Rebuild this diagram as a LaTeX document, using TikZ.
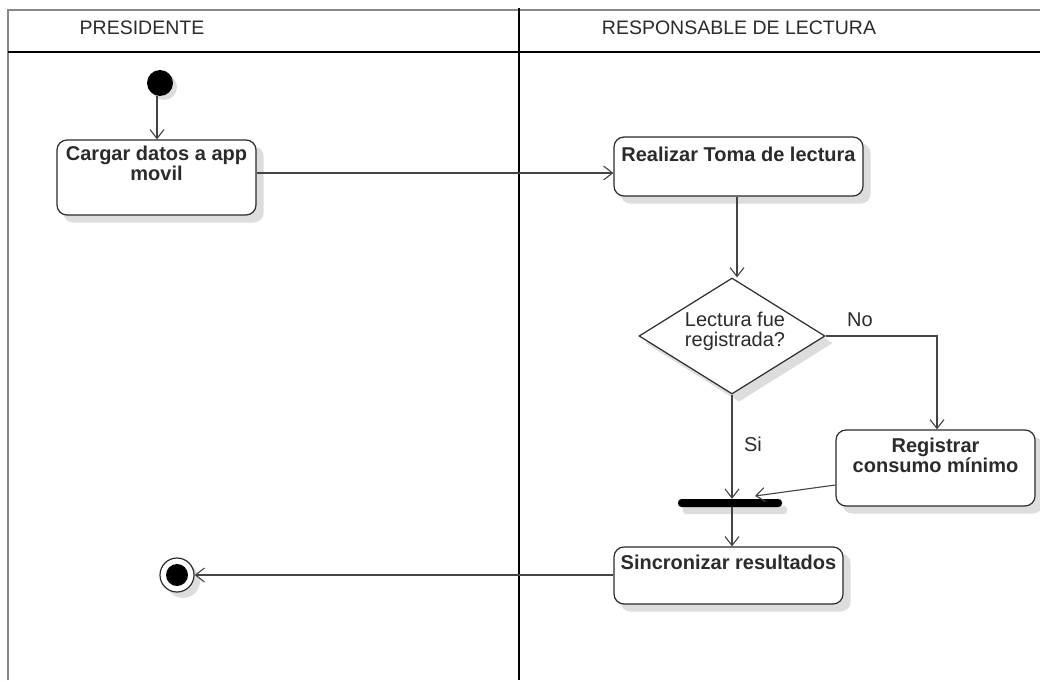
\documentclass[tikz,border=0pt]{standalone}
\usepackage{fontspec}
\setmainfont{Liberation Sans}
\usetikzlibrary{arrows.meta,shapes.geometric}
\definecolor{ink}{HTML}{2B2B2B}
\definecolor{wire}{HTML}{444444}
\definecolor{frame}{HTML}{888888}
\definecolor{shade}{HTML}{DDDDDD}
\pgfdeclarelayer{paper}
\pgfdeclarelayer{shadow}
\pgfsetlayers{paper,shadow,main}
\tikzset{
  actbox/.style={draw=ink, line width=1.2pt, rounded corners=10pt, fill=white, inner sep=0pt},
  acttext/.style={anchor=north, align=center, inner sep=0pt, text=ink,
    font=\fontsize{20}{20}\selectfont\bfseries},
  plaintext/.style={inner sep=0pt, text=ink, font=\fontsize{20}{20}\selectfont},
  lanetext/.style={inner sep=0pt, text=ink, font=\fontsize{19.5}{20}\selectfont},
  flow/.style={draw=wire, line width=1.1pt, -{Straight Barb[length=9pt,width=14pt,line width=1.1pt]}},
  shadowfill/.style={fill=shade, draw=none},
}
\begin{document}
\begin{tikzpicture}[x=1pt,y=-1pt]
\useasboundingbox (0,0) rectangle (1040,680);
\begin{pgfonlayer}{paper}
\fill[white] (0,0) rectangle (1040,680);
\end{pgfonlayer}

% swimlane frame
\draw[frame, line width=1.5pt] (8,680) -- (8,10) -- (1040,10);
\draw[black, line width=2pt] (8,52) -- (1040,52);
\draw[black, line width=1.3pt] (519,8) -- (519,680);
\node[lanetext] (lane1) at (142,28) {PRESIDENTE};
\node[lanetext] (lane2) at (739,28) {RESPONSABLE DE LECTURA};

% start
\node[circle, fill=black, minimum size=26pt, inner sep=0pt] (init) at (160,83) {};

% activities
\node[actbox, minimum width=199pt, minimum height=75pt] (cargar) at (156.5,177.5) {};
\node[acttext] (cargarT) at ([yshift=-6pt]cargar.north) {Cargar datos a app\\movil};

\node[actbox, minimum width=249pt, minimum height=59pt] (realizar) at (738.5,166.5) {};
\node[acttext] (realizarT) at ([yshift=-10pt]realizar.north) {Realizar Toma de lectura};

\node[diamond, draw=ink, line width=1.2pt, fill=white, minimum width=186pt, minimum height=116pt,
  inner sep=0pt] (decide) at (732,336) {};
\node[plaintext, align=center] (decideT) at (735,331) {Lectura fue\\registrada?};

\node[actbox, minimum width=199pt, minimum height=76pt] (registrar) at (935.5,468) {};
\node[acttext] (registrarT) at ([yshift=-8pt]registrar.north) {Registrar\\consumo mínimo};

\node[fill=black, rounded corners=3.5pt, minimum width=104pt, minimum height=8pt, inner sep=0pt] (join) at (730,503) {};

\node[actbox, minimum width=229pt, minimum height=57pt] (sinc) at (728.5,575.5) {};
\node[acttext] (sincT) at ([yshift=-8pt]sinc.north) {Sincronizar resultados};

% end
\node[circle, draw=ink, line width=1.2pt, fill=white, minimum size=34pt, inner sep=0pt] (final) at (177,575) {};
\fill[black] (final) circle (11pt);

% soft drop shadows, offset down and to the right
\begin{pgfonlayer}{shadow}
\foreach \n in {cargar, realizar, registrar, sinc}
  \fill[shadowfill, rounded corners=10pt] ([shift={(7pt,-7pt)}]\n.south west) rectangle ([shift={(7pt,-7pt)}]\n.north east);
\fill[shadowfill] ([shift={(7pt,-7pt)}]decide.north) -- ([shift={(7pt,-7pt)}]decide.east)
  -- ([shift={(7pt,-7pt)}]decide.south) -- ([shift={(7pt,-7pt)}]decide.west) -- cycle;
\fill[shadowfill, rounded corners=3.5pt] ([shift={(5pt,-7pt)}]join.south west) rectangle ([shift={(5pt,-7pt)}]join.north east);
\fill[shadowfill] ([shift={(4pt,-4pt)}]init.center) circle (13pt);
\fill[shadowfill] ([shift={(6pt,-6pt)}]final.center) circle (17pt);
\end{pgfonlayer}

% flows
\draw[flow] (init.south -| 157,0) -- (cargar.north -| 157,0);
\draw[flow] (cargar.east |- 0,173) -- (realizar.west |- 0,173);
\draw[flow] (realizar.south -| 737,0) -- (decide.north -| 737,0);
\draw[flow] (decide.east) -| (registrar.north -| 937,0);
\node[plaintext] (noT) at (860,320) {No};
\draw[flow] (decide.south) -- (join.north -| decide.south);
\node[plaintext] (siT) at (753,444) {Si};
\draw[flow] (registrar.west |- 0,485) -- (755,496);
\draw[flow] (join.south -| 732,0) -- (sinc.north -| 732,0);
\draw[flow] (sinc.west |- final.east) -- (final.east);
\end{tikzpicture}
\end{document}
